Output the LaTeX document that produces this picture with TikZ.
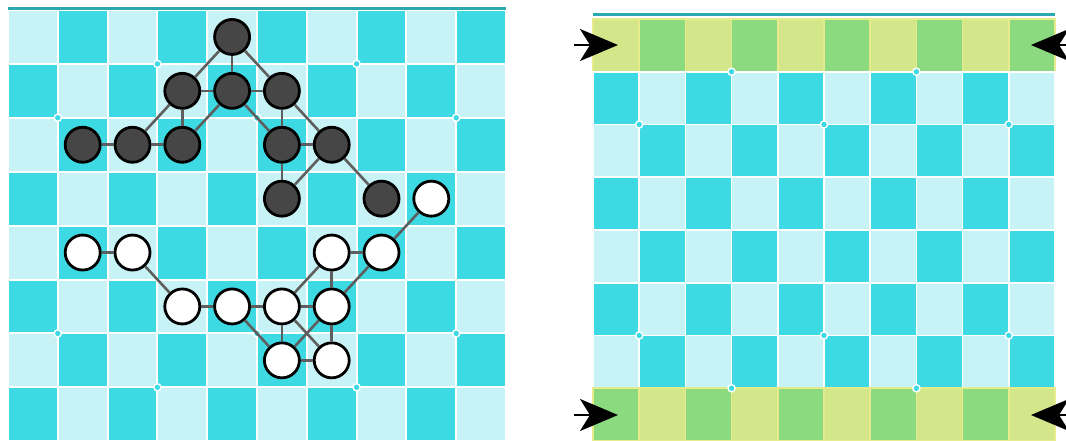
\documentclass[tikz,border=0pt]{standalone}
\usetikzlibrary{arrows.meta}
\definecolor{cyandark}{HTML}{3DDAE4}
\definecolor{cyanlight}{HTML}{C8F3F6}
\definecolor{greendark}{HTML}{8CDA7F}
\definecolor{greenlight}{HTML}{D3E68A}
\definecolor{gridyellow}{HTML}{E6EC8C}
\definecolor{topteal}{HTML}{2AA9B0}
\definecolor{stonegray}{HTML}{464646}
\definecolor{linkgray}{HTML}{5E5E5E}
\tikzset{
  stone/.style={circle, draw=black, line width=2.8pt, minimum size=35pt, inner sep=0pt},
  blackstone/.style={stone, fill=stonegray},
  whitestone/.style={stone, fill=white},
  link/.style={linkgray, line width=2.6pt},
  gridpoint/.style={fill=cyandark, draw=white, line width=1.4pt},
  pusher/.style={-{Stealth[length=38pt, width=32pt, inset=10pt]}, line width=2.2pt, black}
}
\begin{document}
\begin{tikzpicture}[x=1pt, y=-1pt]
  \useasboundingbox (0,0) rectangle (1066,441);
  \foreach \c in {0,...,9}
    \foreach \r in {0,...,7} {
      \ifodd\numexpr\c+\r\relax \colorlet{cellc}{cyandark}\else \colorlet{cellc}{cyanlight}\fi
      \draw[white, line width=2pt, fill=cellc] (8+49.8*\c,10+53.9*\r) rectangle ++(49.8,53.9);
    }
  \foreach \c in {0,...,9}
    \foreach \r in {0,...,7} {
      \ifodd\numexpr\c+\r\relax \colorlet{cellc}{cyandark}\else \colorlet{cellc}{cyanlight}\fi
      \colorlet{gridc}{white}
      \ifnum\r=0 \ifodd\c \colorlet{cellc}{greendark}\else \colorlet{cellc}{greenlight}\fi \colorlet{gridc}{gridyellow}\fi
      \ifnum\r=7 \ifodd\c \colorlet{cellc}{greenlight}\else \colorlet{cellc}{greendark}\fi \colorlet{gridc}{gridyellow}\fi
      \draw[gridc, line width=1.6pt, fill=cellc] (593+46.2*\c,19+52.75*\r) rectangle ++(46.2,52.75);
    }
  \draw[topteal, line width=3.5pt] (8,8.5) -- (506,8.5);
  \draw[topteal, line width=3.5pt] (593,14.5) -- (1055,14.5);
  \foreach \k/\j in {3/1,7/1,1/2,5/2,9/2,1/6,5/6,9/6,3/7,7/7} {
    \filldraw[gridpoint] (8+49.8*\k,10+53.9*\j) circle (3.6pt);
    \filldraw[gridpoint] (593+46.2*\k,19+52.75*\j) circle (3.6pt);
  }
  \foreach \c/\r in {4/0,3/1,4/1,5/1,1/2,2/2,3/2,5/2,6/2,5/3,7/3}
    \node[blackstone] (b\c\r) at (32.9+49.8*\c,36.95+53.9*\r) {};
  \foreach \c/\r in {8/3,1/4,2/4,6/4,7/4,3/5,4/5,5/5,6/5,5/6,6/6}
    \node[whitestone] (w\c\r) at (32.9+49.8*\c,36.95+53.9*\r) {};
  \foreach \a/\b in {40/31,40/41,40/51,31/41,41/51,31/22,31/32,41/32,41/52,51/52,51/62,
                     12/22,22/32,52/62,52/53,62/53,62/73}
    \draw[link] (b\a) -- (b\b);
  \foreach \a/\b in {83/74,14/24,24/35,35/45,45/55,55/64,64/74,64/65,74/65,55/65,
                     55/56,65/66,56/66,65/56,55/66,45/56}
    \draw[link] (w\a) -- (w\b);
  \coordinate (topLeftTail) at (574,45);
  \coordinate (topLeftTip) at (618,45);
  \coordinate (botLeftTail) at (574,415);
  \coordinate (botLeftTip) at (618,415);
  \coordinate (topRightTail) at (1070,45);
  \coordinate (topRightTip) at (1031,45);
  \coordinate (botRightTail) at (1070,415);
  \coordinate (botRightTip) at (1031,415);
  \draw[pusher] (topLeftTail) -- (topLeftTip);
  \draw[pusher] (botLeftTail) -- (botLeftTip);
  \draw[pusher] (topRightTail) -- (topRightTip);
  \draw[pusher] (botRightTail) -- (botRightTip);
\end{tikzpicture}
\end{document}
